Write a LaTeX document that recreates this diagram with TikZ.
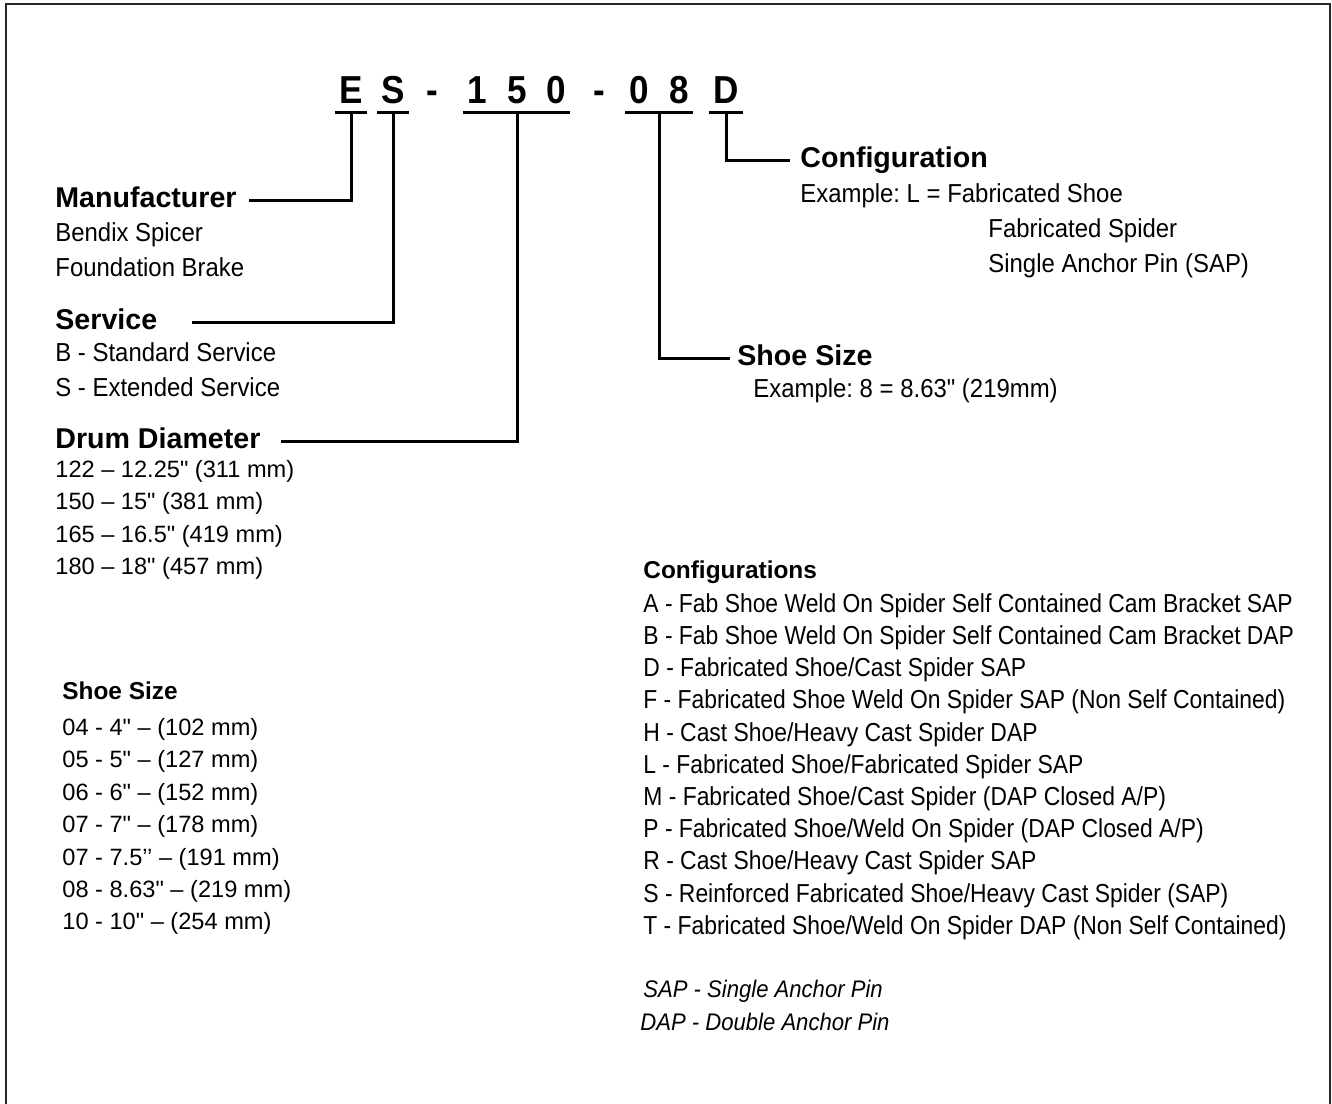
\documentclass[tikz,border=0pt]{standalone}
\usepackage{fontspec}
\setmainfont{Liberation Sans}[Ligatures=TeXOff]
\newfontfamily\narrowsf[FakeStretch=0.92]{Liberation Sans}
\newfontfamily\listsf[FakeStretch=0.88]{Liberation Sans}
\newfontfamily\codesf[FakeStretch=0.9]{Liberation Sans}
\usepackage{tikz}
\usetikzlibrary{positioning, calc}
\frenchspacing

\begin{document}
\begin{tikzpicture}[
  x=0.5pt, y=-0.5pt,
  codechar/.style={
    font=\codesf\bfseries\fontsize{19.5}{20}\selectfont,
    inner ysep=0pt, inner xsep=1pt, text height=14pt, text depth=4.5pt,
    anchor=base
  },
  head/.style={font=\bfseries\fontsize{14.3}{16}\selectfont,
    inner sep=0pt, text height=10pt, text depth=3pt, anchor=base west},
  subhead/.style={font=\bfseries\fontsize{12.2}{14}\selectfont,
    inner sep=0pt, anchor=base west},
  desc/.style={font=\narrowsf\fontsize{13}{17.5}\selectfont,
    inner sep=0pt, align=left, anchor=north west},
  sizes/.style={font=\fontsize{11.8}{16.2}\selectfont,
    inner sep=0pt, align=left, anchor=north west},
  conflist/.style={font=\listsf\fontsize{13}{16.1}\selectfont,
    inner sep=0pt, align=left, anchor=north west},
  note/.style={font=\narrowsf\itshape\fontsize{12}{16}\selectfont,
    inner sep=0pt, anchor=base west},
  uline/.style={line width=1.5pt, line cap=rect},
  link/.style={line width=1.5pt}
]
  \useasboundingbox (0,0) rectangle (1332,1103);
  \draw[line width=1pt, black!85] (6,1110) -- (6,4) -- (1330,4) -- (1330,1110);

  % part number
  \node[codechar] (cE)     at (351,103) {E};
  \node[codechar] (cS)     at (393,103) {S};
  \node[codechar] (cDashA) at (432,103) {-};
  \node[codechar] (cOne)   at (477,103) {1};
  \node[codechar] (cFive)  at (517,103) {5};
  \node[codechar] (cZero)  at (556,103) {0};
  \node[codechar] (cDashB) at (599,103) {-};
  \node[codechar] (cZeroB) at (639,103) {0};
  \node[codechar] (cEight) at (679,103) {8};
  \node[codechar] (cD)     at (726,103) {D};

  \draw[uline] (cE.south west) -- (cE.south east);
  \draw[uline] (cS.south west) -- (cS.south east);
  \draw[uline] (cOne.south west) -- (cZero.south east);
  \draw[uline] (cZeroB.south west) -- (cEight.south east);
  \draw[uline] (cD.south west) -- (cD.south east);

  % left column
  \node[head] (manuf) at (55,207) {Manufacturer};
  \node[desc] (manufdesc) at (55,222) {Bendix Spicer\\Foundation Brake};
  \node[head] (serv) at (55,329) {Service};
  \node[desc] (servdesc) at (55,342) {B - Standard Service\\S - Extended Service};
  \node[head] (drum) at (55,448) {Drum Diameter};
  \node[sizes] (drumlist) at (55,460) {122 – 12.25" (311 mm)\\150 – 15" (381 mm)\\165 – 16.5" (419 mm)\\180 – 18" (457 mm)};

  \node[subhead] (shoetab) at (62,699) {Shoe Size};
  \node[sizes] (shoelist) at (62,718) {04 - 4" – (102 mm)\\05 - 5" – (127 mm)\\06 - 6" – (152 mm)\\07 - 7" – (178 mm)\\07 - 7.5’’ – (191 mm)\\08 - 8.63" – (219 mm)\\10 - 10" – (254 mm)};

  % right column
  \node[head] (config) at (800,167) {Configuration};
  \node[desc, anchor=base west] (exL) at (800,202) {Example: L = Fabricated Shoe};
  \node[desc] (exLmore) at (988,218) {Fabricated Spider\\Single Anchor Pin (SAP)};
  \node[head] (shoe) at (737,365) {Shoe Size};
  \node[desc, anchor=base west] (ex8) at (753,397) {Example: 8 = 8.63" (219mm)};

  \node[subhead] (conftab) at (643,578) {Configurations};
  \node[conflist] (conflist) at (643,593) {A - Fab Shoe Weld On Spider Self Contained Cam Bracket SAP\\
    B - Fab Shoe Weld On Spider Self Contained Cam Bracket DAP\\
    D - Fabricated Shoe/Cast Spider SAP\\
    F - Fabricated Shoe Weld On Spider SAP (Non Self Contained)\\
    H - Cast Shoe/Heavy Cast Spider DAP\\
    L - Fabricated Shoe/Fabricated Spider SAP\\
    M - Fabricated Shoe/Cast Spider (DAP Closed A/P)\\
    P - Fabricated Shoe/Weld On Spider (DAP Closed A/P)\\
    R - Cast Shoe/Heavy Cast Spider SAP\\
    S - Reinforced Fabricated Shoe/Heavy Cast Spider (SAP)\\
    T - Fabricated Shoe/Weld On Spider DAP (Non Self Contained)};
  \node[note] (sapnote) at (643,997) {SAP - Single Anchor Pin};
  \node[note] (dapnote) at (640,1030) {DAP - Double Anchor Pin};

  % leaders
  \draw[link] (cE.south) |- ([xshift=6pt]manuf.east);
  \draw[link] (cS.south) |- ([xshift=17pt]serv.east);
  \draw[link] (cFive.south) |- ([xshift=10pt]drum.east);
  \draw[link] ($(cZeroB.south)!0.5!(cEight.south)$) |- ([xshift=-3.5pt]shoe.west);
  \draw[link] (cD.south) |- ([xshift=-5pt]config.west);
\end{tikzpicture}
\end{document}
